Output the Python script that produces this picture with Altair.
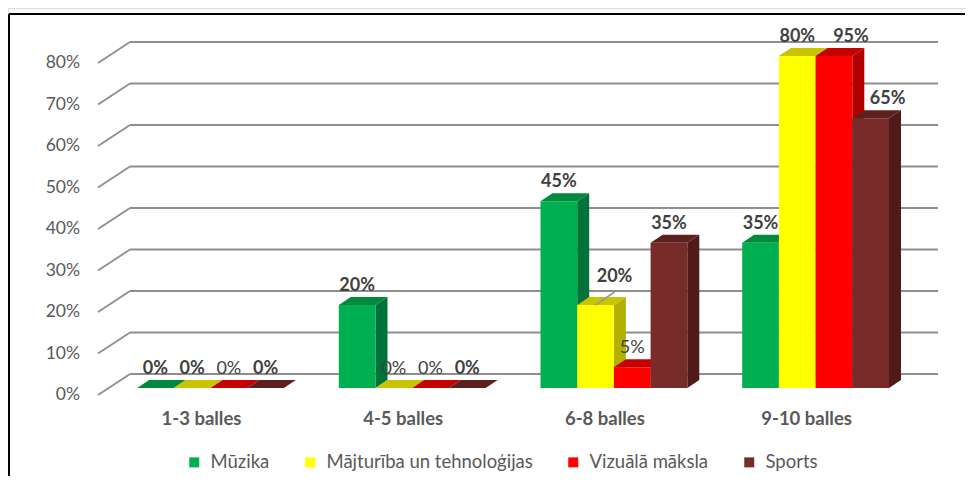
import altair as alt
import pandas as pd

# ---- data ----
categories = ["1-3 balles", "4-5 balles", "6-8 balles", "9-10 balles"]
series = ["Mūzika", "Mājturība un tehnoloģijas", "Vizuālā māksla", "Sports"]
muzika = [0.00, 0.20, 0.45, 0.35]
majturiba = [0.00, 0.00, 0.20, 0.80]
vizuala = [0.00, 0.00, 0.05, 0.95]
sports = [0.00, 0.00, 0.35, 0.65]
y_ticks = [0.0, 0.1, 0.2, 0.3, 0.4, 0.5, 0.6, 0.7, 0.8]

# ---- style ----
front_colors = ["#00B050", "#FFFF00", "#FF0000", "#772C2A"]
side_colors = ["#00733A", "#B3B000", "#B00000", "#4E1B1A"]
top_colors = ["#008A3E", "#C8C400", "#C40000", "#5C2020"]
FONT = "Lato"
W = 36.7 / 201.7     # bar width in category units
DX = 12 / 201.7      # depth offset (x) in category units
PXV = 0.8 / 332      # value units per pixel
DY = 8 * PXV         # depth offset (y) in value units
YMAX = 0.8
GRID = "#8E8E8E"

# ---- tables built from the arrays ----
rows, side_rows, top_rows = [], [], []
for si, (name, vals) in enumerate(zip(series, [muzika, majturiba, vizuala, sports])):
    for ci, (cat, v) in enumerate(zip(categories, vals)):
        h = min(v, YMAX)
        xl = ci + (si - 2) * W
        xr = xl + W
        bar = f"{ci}-{si}"
        rows.append({"cat": cat, "ci": ci, "series": name, "si": si, "value": v,
                     "h": h, "xl": xl, "xr": xr, "xc": xl + W / 2, "zero": 0.0})
        for px, py, py2 in [(xr, 0.0, h), (xr + DX, DY, h + DY)]:
            side_rows.append({"bar": bar, "series": name, "px": px, "py": py, "py2": py2})
        for px, py, py2 in [(xl, h, h), (xl + DX, h, h + DY), (xr, h, h + DY), (xr + DX, h + DY, h + DY)]:
            top_rows.append({"bar": bar, "series": name, "px": px, "py": py, "py2": py2})
df = pd.DataFrame(rows)
side_df = pd.DataFrame(side_rows)
top_df = pd.DataFrame(top_rows)

xs = alt.Scale(domain=[0, 3], range=[202.5, 807.6], nice=False, zero=False)
ys = alt.Scale(domain=[0, YMAX], range=[380, 48], nice=False, zero=False)


def cscale(rng):
    return alt.Scale(domain=series, range=rng)


def face(data, colors):
    return (
        alt.Chart(data)
        .mark_area(opacity=1)
        .encode(
            x=alt.X("px:Q", scale=xs, axis=None),
            y=alt.Y("py:Q", scale=ys, axis=None, stack=None),
            y2="py2:Q",
            detail="bar:N",
            color=alt.Color("series:N", scale=cscale(colors), legend=None),
        )
    )


side = face(side_df, side_colors)
top = face(top_df, top_colors)

front = (
    alt.Chart(df)
    .mark_rect()
    .encode(
        x=alt.X("xl:Q", scale=xs, axis=None),
        x2="xr:Q",
        y=alt.Y("h:Q", scale=ys, axis=None),
        y2="zero:Q",
        color=alt.Color(
            "series:N",
            scale=cscale(front_colors),
            legend=alt.Legend(
                title=None,
                orient="none",
                legendX=177,
                legendY=445,
                direction="horizontal",
                columns=4,
                symbolType="square",
                symbolSize=100,
                symbolStrokeWidth=0,
                labelFont=FONT,
                labelFontSize=18.5,
                labelColor="#595959",
                labelLimit=0,
                columnPadding=31,
                labelOffset=7,
                padding=0,
            ),
        ),
    )
)

# gridlines
tick_df = pd.DataFrame({"t": y_ticks})
grid_back = (
    alt.Chart(tick_df)
    .mark_rule(color=GRID, strokeWidth=1.8, yOffset=-14)
    .encode(x=alt.value(122), x2=alt.value(930), y=alt.Y("t:Q", scale=ys, axis=None))
)
grid_side = (
    alt.Chart(tick_df)
    .mark_rule(color=GRID, strokeWidth=1.8, yOffset=7, y2Offset=-14)
    .encode(x=alt.value(90), x2=alt.value(122), y=alt.Y("t:Q", scale=ys, axis=None), y2="t:Q")
)
ylabels = (
    alt.Chart(tick_df)
    .mark_text(font=FONT, fontSize=17.5, color="#595959", align="right", dy=7)
    .encode(x=alt.value(72), y=alt.Y("t:Q", scale=ys, axis=None), text=alt.Text("t:Q", format=".0%"))
)

cat_df = pd.DataFrame({"cat": categories, "ci": list(range(len(categories))), "zero": 0.0})
xlabels = (
    alt.Chart(cat_df)
    .mark_text(font=FONT, fontSize=18.5, fontWeight="bold", color="#595959", dy=31, dx=-9)
    .encode(x=alt.X("ci:Q", scale=xs, axis=None), y=alt.Y("zero:Q", scale=ys, axis=None), text="cat:N")
)

special = "datum.si == 1 && datum.ci == 2"
nudged = "datum.ci == 3 && datum.si >= 2"
normal_weight = "(datum.si == 2 && datum.value < 0.9) || (datum.si == 1 && datum.ci == 1)"

lab_enc = dict(
    x=alt.X("xc:Q", scale=xs, axis=None),
    y=alt.Y("h:Q", scale=ys, axis=None),
    text=alt.Text("value:Q", format=".0%"),
)
LBL = dict(font=FONT, fontSize=18, color="#404040")
labels_bold = (
    alt.Chart(df).transform_filter(f"!({special}) && !({nudged}) && !({normal_weight})")
    .mark_text(fontWeight="bold", dy=-19, **LBL)
    .encode(**lab_enc)
)
labels_norm = (
    alt.Chart(df).transform_filter(f"!({special}) && ({normal_weight})")
    .mark_text(dy=-19, **LBL)
    .encode(**lab_enc)
)
labels_nudged = (
    alt.Chart(df).transform_filter(nudged)
    .mark_text(fontWeight="bold", dx=17, dy=-19, **LBL)
    .encode(**lab_enc)
)
labels_special = (
    alt.Chart(df).transform_filter(special)
    .mark_text(fontWeight="bold", dx=19, dy=-28, **LBL)
    .encode(**lab_enc)
)
leader = (
    alt.Chart(df).transform_filter(special)
    .transform_calculate(lx2=f"datum.xc + {19 / 201.7}", ly2=f"datum.h + {13 * PXV}")
    .mark_rule(color="#999999", strokeWidth=1.6)
    .encode(x=alt.X("xc:Q", scale=xs, axis=None), x2="lx2:Q",
            y=alt.Y("h:Q", scale=ys, axis=None), y2="ly2:Q")
)

one = pd.DataFrame({"a": [0]})
border_left = alt.Chart(one).mark_rule(color="black", strokeWidth=2).encode(
    x=alt.value(1), y=alt.value(6), y2=alt.value(468)
)
border_top = alt.Chart(one).mark_rule(color="black", strokeWidth=2).encode(
    x=alt.value(1), x2=alt.value(957), y=alt.value(6)
)

chart = (
    alt.layer(
        grid_back, grid_side, ylabels, xlabels,
        side, top, front,
        leader, labels_bold, labels_norm, labels_nudged, labels_special,
        border_left, border_top,
    )
    .resolve_scale(color="independent")
    .properties(width=957, height=468, padding=0, autosize=alt.AutoSizeParams(type="none"))
    .configure_view(stroke=None)
    .configure(background="white")
)

chart.save("out.html", embed_options={"renderer": "svg", "actions": False})
